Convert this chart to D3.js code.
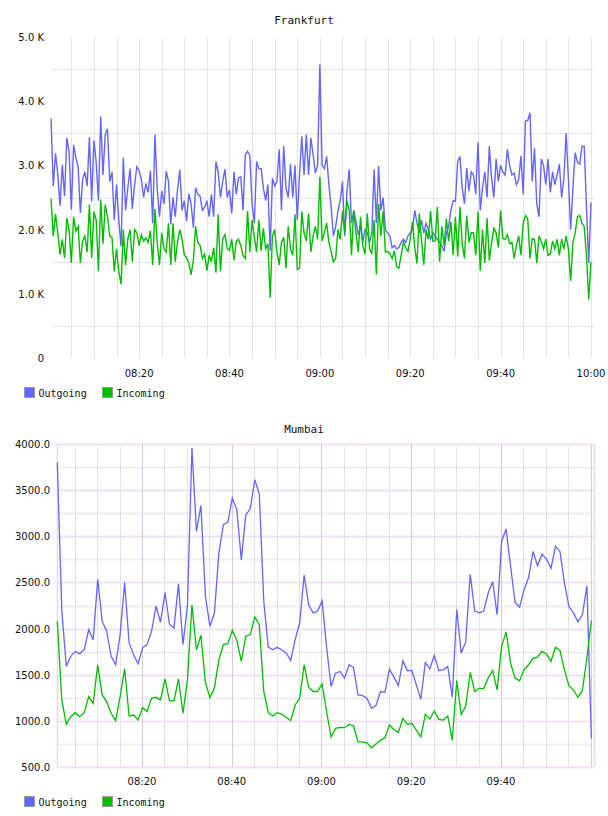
<!DOCTYPE html>
<html>
<head>
<meta charset="utf-8">
<script src="https://cdnjs.cloudflare.com/ajax/libs/d3/7.8.5/d3.min.js"></script>
<style>
  body { margin: 0; background: #fff; }
  svg { display: block; }
  .tick-label { font-family: 'DejaVu Sans', sans-serif; font-size: 10px; fill: #111; }
  .title { font-family: 'DejaVu Sans Mono', monospace; font-size: 11px; fill: #111; }
  .legend { font-family: 'DejaVu Sans Mono', monospace; font-size: 10px; fill: #111; }
</style>
</head>
<body>
<svg width="608" height="816"></svg>
<script>

// ---- data ----

var seriesNames = ["Outgoing", "Incoming"];
var seriesColors = ["#6464ff", "#00bd00"];

// Frankfurt: one sample every 30 s from 08:00:30, values in thousands
var frStart = "08:00:30";
var frStepSeconds = 30;
var frOutgoing = [
  3.73,2.68,3.19,2.86,2.37,3.01,2.52,3.43,3.22,2.31,3.32,3.12,2.98,2.26,2.78,2.9,2.68,3.44,2.44,3.39,
  3.05,2.45,3.76,2.85,3.48,3.57,2.75,2.9,2.15,2.7,2.15,1.74,3.12,2.3,2.65,2.95,2.32,2.7,2.98,2.92,
  2.78,2.5,2.72,2.58,2.92,2.1,3.48,2.65,2.2,2.6,2.4,2.91,2.75,2.08,2.5,2.2,2.62,2.93,2.3,
  2.45,2.13,2.56,2.4,2.03,2.65,2.55,2.52,2.3,2.35,2.45,2.2,2.55,2.2,3.06,2.9,2.5,2.75,2.94,2.5,
  2.62,2.25,2.9,2.55,2.81,2.82,2.3,3.17,3.22,3.15,2.4,2.1,3.06,2.95,2.95,2.65,2.45,2.7,1.67,2.8,
  2.68,2.75,3.25,2.3,3.3,2.65,2.5,3.02,2.5,3.0,2.15,2.85,3.45,2.85,3.48,2.85,3.43,3.17,2.88,3.0,
  4.57,3.0,2.95,3.14,2.7,2.35,1.9,2.05,2.29,2.45,2.75,1.9,2.6,2.94,2.1,2.3,2.13,1.92,2.05,1.8,
  2.0,1.95,1.8,1.95,2.94,2.1,2.99,2.3,2.5,2.0,1.95,1.9,1.72,1.75,1.7,1.72,1.8,1.85,1.8,1.9,
  1.95,2.0,2.3,2.1,1.95,2.15,1.95,2.1,2.0,1.85,1.95,1.9,1.85,1.8,1.75,1.66,1.95,2.05,2.3,2.45,
  2.44,3.06,3.14,2.65,2.4,2.96,2.6,2.9,2.85,2.55,3.36,2.3,2.65,2.9,2.5,3.3,2.8,2.5,3.1,2.75,
  3.0,2.9,2.85,3.25,3.0,2.85,2.88,2.7,2.78,3.15,2.55,3.69,3.7,3.82,2.75,3.27,2.4,2.2,3.1,3.0,
  2.7,3.1,2.58,2.9,2.7,2.85,3.02,2.5,2.8,3.5,2.8,2.0,2.65,3.2,3.05,3.02,3.3,3.3,2.35,1.48,
  2.42
];
var frIncoming = [
  2.48,1.9,2.24,1.95,1.61,1.85,1.56,2.18,2.0,1.48,2.2,1.98,2.05,1.48,1.82,1.9,1.65,2.39,1.56,2.28,
  2.15,1.35,2.47,1.78,2.39,2.2,1.9,1.88,1.35,1.7,1.35,1.15,2.0,1.45,1.85,2.0,1.5,2.0,1.95,1.75,
  1.92,1.82,1.87,1.8,1.98,1.45,2.32,1.8,1.45,1.95,1.7,1.65,2.1,1.45,2.1,1.5,1.8,2.0,1.85,
  1.61,1.56,1.48,1.3,1.52,2.05,1.8,1.75,1.55,1.62,1.36,1.6,1.5,1.72,1.33,2.24,1.35,1.85,1.92,1.7,
  1.68,1.85,1.52,1.82,1.85,1.75,1.6,1.55,2.29,1.65,2.15,1.88,1.65,2.15,1.67,2.02,1.7,1.78,0.94,1.9,
  2.0,1.65,1.45,1.8,1.88,1.4,2.05,1.7,1.6,2.24,1.38,1.4,2.28,1.95,1.82,2.25,1.65,1.9,2.05,1.85,
  2.82,1.82,1.95,2.1,1.8,1.65,1.5,1.55,2.0,1.85,2.29,1.95,2.45,2.3,1.6,2.3,1.95,1.65,2.2,1.75,
  1.62,2.25,1.7,1.62,2.15,1.3,2.4,1.9,2.29,1.65,1.66,1.62,1.55,1.67,1.42,1.4,1.61,1.8,1.72,1.66,
  1.85,2.12,1.72,1.47,2.25,1.82,1.45,2.0,1.85,2.29,1.82,1.82,2.35,1.5,2.05,1.75,2.17,1.82,2.12,1.6,
  2.2,1.58,2.35,1.78,1.55,2.22,1.8,1.95,1.95,1.6,2.28,1.36,2.0,1.48,2.18,1.52,1.8,2.02,1.95,1.72,
  2.3,1.86,1.85,1.92,1.78,1.8,1.55,1.75,1.9,1.6,2.1,2.22,2.17,1.55,1.86,1.85,1.48,1.9,1.82,1.7,
  1.85,1.6,1.62,1.82,1.7,1.85,1.6,1.85,1.7,1.9,1.7,1.2,1.8,1.95,2.2,2.22,2.1,2.05,1.6,0.91,
  1.5
];
var frYTicks = [0, 1, 2, 3, 4, 5];
var frYGrid = [0.5, 1.5, 2.5, 3.5, 4.5];

// Mumbai: one sample per minute from 08:01:08
var muStart = "08:01:08";
var muStepSeconds = 60;
var muOutgoing = [
  3800,2200,1590,1700,1750,1728,1771,1989,1880,2535,
  2080,1971,1700,1608,1935,2499,1844,1717,1619,1790,
  1826,1971,2243,2069,2390,2044,2007,2484,1826,2250,
  3957,3052,3334,2350,2025,2163,2817,3125,3154,3414,
  3287,2745,3233,3298,3613,3461,2300,1800,1771,1797,
  1771,1735,1655,1880,2060,2580,2257,2170,2190,2300,
  1800,1372,1517,1535,1463,1608,1579,1281,1274,1245,
  1136,1165,1318,1310,1561,1474,1383,1652,1543,1546,
  1390,1234,1633,1564,1710,1546,1553,1590,1256,2207,
  1735,1855,2589,2189,2170,2189,2383,2510,2150,2944,
  3078,2673,2282,2231,2419,2553,2835,2680,2806,2752,
  2654,2890,2835,2492,2239,2170,2073,2150,2463,809
];
var muIncoming = [
  2080,1227,965,1045,1089,1045,1089,1263,1190,1608,
  1281,1209,1082,1002,1263,1564,1053,1063,1009,1143,
  1100,1245,1256,1227,1456,1216,1216,1456,1082,1445,
  2254,1771,1927,1416,1252,1354,1662,1826,1837,1982,
  1873,1644,1917,1935,2127,2044,1318,1089,1053,1089,
  1074,1038,1002,1172,1245,1608,1365,1318,1318,1401,
  1100,827,918,929,926,962,947,773,773,762,
  708,748,791,817,955,907,875,1027,962,973,
  900,827,1071,1020,1107,1016,1009,1053,791,1437,
  1071,1161,1524,1318,1354,1347,1463,1546,1336,1808,
  1964,1626,1463,1434,1553,1608,1677,1691,1753,1724,
  1644,1797,1764,1553,1379,1336,1256,1329,1681,2087
];
var muYTicks = [500, 1000, 1500, 2000, 2500, 3000, 3500, 4000];
var muYMinor = [750, 1250, 1750, 2250, 2750, 3250, 3750];

var xTickLabels = ["08:20", "08:40", "09:00", "09:20", "09:40", "10:00"];

// ---- helpers ----

var parseTime = d3.timeParse("%H:%M:%S");
var parseHM = d3.timeParse("%H:%M");
var formatHM = d3.timeFormat("%H:%M");

function toPoints(startText, stepSeconds, values)
{
  var t0 = parseTime(startText);
  return values.map(function(v, i) {
    return { t: d3.timeSecond.offset(t0, i * stepSeconds), v: v };
  });
}

var svg = d3.select("svg");
svg.append("rect").attr("width", 608).attr("height", 816).attr("fill", "#fff");

function drawLegend(y)
{
  var items = svg.append("g").attr("transform", "translate(0," + y + ")");
  var xs = [24.5, 102.5];
  seriesNames.forEach(function(name, i) {
    items.append("rect")
      .attr("x", xs[i]).attr("y", 0)
      .attr("width", 10).attr("height", 10)
      .attr("fill", seriesColors[i])
      .attr("stroke", "#9a9a9a");
    items.append("text")
      .attr("class", "legend")
      .attr("x", xs[i] + 14).attr("y", 9)
      .text(name);
  });
}

// ---- Frankfurt ----

(function() {
  var left = 51, right = 594, top = 37, bottom = 358;
  var x = d3.scaleTime()
    .domain([parseTime("08:00:30"), parseTime("10:00:40")])
    .range([left, right]);
  var y = d3.scaleLinear().domain([0, 5]).range([bottom, top]);

  var g = svg.append("g");

  // 5-minute vertical grid
  var fiveMin = d3.timeMinute.every(5).range(parseTime("08:01:00"), parseTime("10:00:30"));
  g.selectAll("line.vgrid").data(fiveMin).enter().append("line")
    .attr("x1", function(d) { return Math.round(x(d)) + 0.5; })
    .attr("x2", function(d) { return Math.round(x(d)) + 0.5; })
    .attr("y1", top).attr("y2", bottom)
    .attr("stroke", "#e6e6e6");

  g.selectAll("line.hgrid").data(frYGrid).enter().append("line")
    .attr("x1", left).attr("x2", right)
    .attr("y1", function(d) { return Math.round(y(d)) + 0.5; })
    .attr("y2", function(d) { return Math.round(y(d)) + 0.5; })
    .attr("stroke", "#e6e6e6");

  g.selectAll("text.ylab").data(frYTicks).enter().append("text")
    .attr("class", "tick-label")
    .attr("text-anchor", "end")
    .attr("x", 44)
    .attr("y", function(d) { return y(d) + 4; })
    .text(function(d) { return d === 0 ? "0" : d.toFixed(1) + " K"; });

  g.selectAll("text.xlab").data(xTickLabels).enter().append("text")
    .attr("class", "tick-label")
    .attr("text-anchor", "middle")
    .attr("x", function(d) { return x(parseHM(d)); })
    .attr("y", 377)
    .text(function(d) { return formatHM(parseHM(d)); });

  svg.append("text").attr("class", "title")
    .attr("x", 304).attr("y", 24).attr("text-anchor", "middle")
    .text("Frankfurt");

  var line = d3.line()
    .x(function(d) { return x(d.t); })
    .y(function(d) { return y(d.v); });

  [frOutgoing, frIncoming].forEach(function(vals, i) {
    g.append("path")
      .datum(toPoints(frStart, frStepSeconds, vals))
      .attr("fill", "none")
      .attr("stroke", seriesColors[i])
      .attr("stroke-width", 1.4)
      .attr("stroke-linejoin", "miter")
      .attr("d", line);
  });

  drawLegend(387.5);
})();

// ---- Mumbai ----

(function() {
  var left = 57, right = 594, top = 444, bottom = 767;
  var x = d3.scaleTime()
    .domain([parseTime("08:01:04"), parseTime("10:00:43")])
    .range([left, right]);
  var y = d3.scaleLinear().domain([500, 4000]).range([bottom, top]);

  var g = svg.append("g");

  var fiveMin = d3.timeMinute.every(5).range(parseTime("08:02:00"), parseTime("10:00:30"));
  var minorV = fiveMin.filter(function(d) { return d.getMinutes() % 20 !== 0; });
  var majorV = fiveMin.filter(function(d) { return d.getMinutes() % 20 === 0; });

  g.selectAll("line.hminor").data(muYMinor).enter().append("line")
    .attr("x1", left).attr("x2", right)
    .attr("y1", function(d) { return Math.round(y(d)) + 0.5; })
    .attr("y2", function(d) { return Math.round(y(d)) + 0.5; })
    .attr("stroke", "#f0eef0").attr("stroke-width", 2);

  g.selectAll("line.vminor").data(minorV).enter().append("line")
    .attr("x1", function(d) { return Math.round(x(d)) + 0.5; })
    .attr("x2", function(d) { return Math.round(x(d)) + 0.5; })
    .attr("y1", top).attr("y2", bottom)
    .attr("stroke", "#e6e0e6");

  g.selectAll("line.hmajor").data(muYTicks).enter().append("line")
    .attr("x1", left).attr("x2", right)
    .attr("y1", function(d) { return Math.round(y(d)) + 0.5; })
    .attr("y2", function(d) { return Math.round(y(d)) + 0.5; })
    .attr("stroke", "#f0e2f0").attr("stroke-width", 2);

  g.selectAll("line.vmajor").data(majorV).enter().append("line")
    .attr("x1", function(d) { return Math.round(x(d)) + 0.5; })
    .attr("x2", function(d) { return Math.round(x(d)) + 0.5; })
    .attr("y1", top).attr("y2", bottom)
    .attr("stroke", "#dcc6dc");

  // frame sides
  [left, right].forEach(function(px) {
    g.append("line")
      .attr("x1", px + 0.5).attr("x2", px + 0.5)
      .attr("y1", top).attr("y2", bottom)
      .attr("stroke", "#ead8ea").attr("stroke-width", 1.5);
  });

  g.selectAll("text.ylab").data(muYTicks).enter().append("text")
    .attr("class", "tick-label")
    .attr("text-anchor", "end")
    .attr("x", 50)
    .attr("y", function(d) { return y(d) + 4; })
    .text(function(d) { return d.toFixed(1); });

  g.selectAll("text.xlab").data(xTickLabels.slice(0, 5)).enter().append("text")
    .attr("class", "tick-label")
    .attr("text-anchor", "middle")
    .attr("x", function(d) { return x(parseHM(d)); })
    .attr("y", 785)
    .text(function(d) { return formatHM(parseHM(d)); });

  svg.append("text").attr("class", "title")
    .attr("x", 304).attr("y", 433).attr("text-anchor", "middle")
    .text("Mumbai");

  var line = d3.line()
    .x(function(d) { return x(d.t); })
    .y(function(d) { return y(d.v); });

  [muOutgoing, muIncoming].forEach(function(vals, i) {
    g.append("path")
      .datum(toPoints(muStart, muStepSeconds, vals))
      .attr("fill", "none")
      .attr("stroke", seriesColors[i])
      .attr("stroke-width", 1.3)
      .attr("d", line);
  });

  drawLegend(796.5);
})();

</script>
</body>
</html>
